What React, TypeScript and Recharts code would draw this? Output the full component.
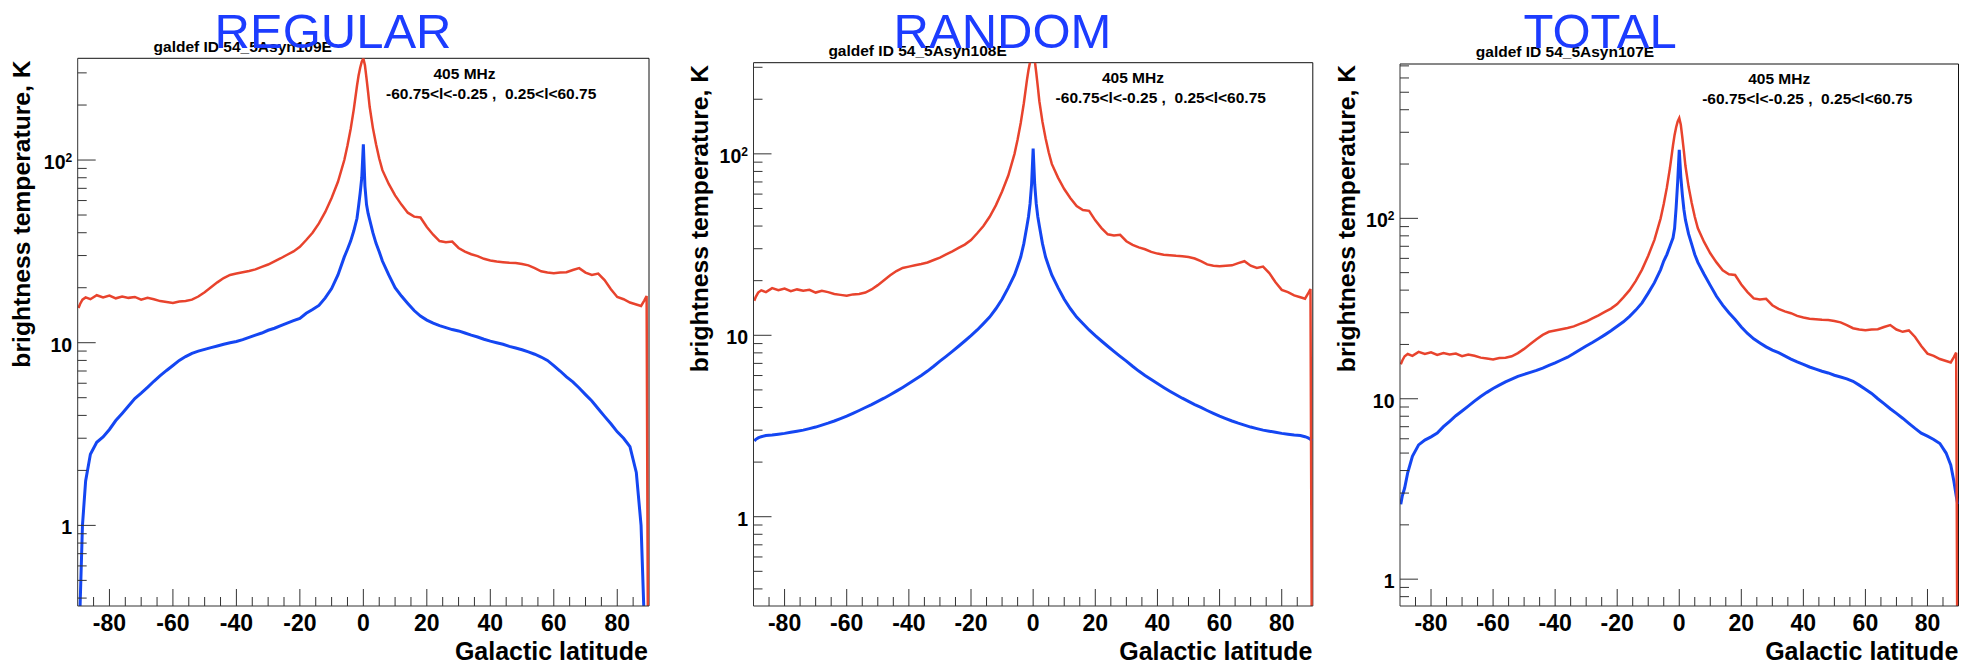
import { LineChart, Line, XAxis, YAxis, ReferenceLine } from 'recharts';

// Galactic latitude grid (deg) shared by every curve
const latitude = [
  -89.75, -89.25, -88.5, -87.5,
  -86, -84, -82, -80, -78, -76, -74, -72, -70, -68,
  -66, -64, -62, -60, -58, -56, -54, -52, -50, -48,
  -46, -44, -42, -40, -38, -36, -34, -32, -30, -28,
  -26, -24, -22, -20, -18, -16, -14, -12, -10, -8, -6,
  -5, -4, -3, -2, -1.5, -1, -0.5,
  0,
  0.5, 1, 1.5, 2, 3, 4, 5,
  6, 8, 10, 12, 14, 16, 18, 20, 22, 24,
  26, 28, 30, 32, 34, 36, 38, 40, 42, 44,
  46, 48, 50, 52, 54, 56, 58, 60, 62, 64,
  66, 68, 70, 72, 74, 76, 78, 80, 82, 84, 86,
  87.5, 88.5, 89.25, 89.75,
];

// 405 MHz survey profile (red), same in all three panels
const observed405 = [
  15.5, 16.3, 17.2, 17.7,
  17.3, 18.2, 17.7, 18.1, 17.5, 17.9, 17.6, 17.8, 17.2, 17.6,
  17.3, 16.9, 16.7, 16.5, 16.8, 16.9, 17.2, 17.9, 18.9, 20.1,
  21.4, 22.6, 23.5, 23.9, 24.3, 24.7, 25.2, 26.0, 26.8, 27.9,
  29.0, 30.3, 31.6, 33.5, 36.5, 40, 45, 52, 62, 76, 100,
  120, 148, 190, 255, 290, 320, 345,
  360,
  330, 280, 235, 195, 150, 122, 102,
  88, 74, 64, 57, 51.5, 49, 48.5, 43, 39, 36,
  35.5, 35.8, 33, 31.5, 30.5, 29.8, 28.8, 28.2, 27.8, 27.6,
  27.4, 27.3, 27.0, 26.5, 25.6, 24.6, 24.2, 24.0, 24.2, 24.3,
  25.0, 25.6, 24.2, 23.5, 23.9, 22.0, 19.6, 17.8, 17.3, 16.6, 16.2,
  15.9, 17.0, 18.0, 0.1,
];

// model profiles (blue)
const regularModel = [
  0.2, 0.36, 1.0, 1.75,
  2.45, 2.85, 3.05, 3.35, 3.75, 4.1, 4.5, 4.95, 5.3, 5.7,
  6.15, 6.6, 7.05, 7.5, 8.0, 8.4, 8.75, 9.0, 9.2, 9.4,
  9.6, 9.8, 10.0, 10.15, 10.4, 10.7, 11.0, 11.3, 11.7, 12.0,
  12.4, 12.8, 13.2, 13.6, 14.5, 15.2, 16.0, 17.6, 19.8, 23.5, 29.5,
  32.5, 36, 41, 48, 56, 66, 80,
  122,
  72, 57, 51, 47, 40, 35, 31.5,
  28, 23.5, 20, 18, 16.4, 15.0, 14.0, 13.3, 12.8, 12.4,
  12.1, 11.8, 11.6, 11.3, 11.0, 10.75, 10.45, 10.2, 10.0, 9.8,
  9.55, 9.35, 9.15, 8.9, 8.65, 8.35, 8.0, 7.5, 7.0, 6.5,
  6.1, 5.65, 5.2, 4.8, 4.35, 3.95, 3.6, 3.25, 3.0, 2.7, 1.95,
  1.0, 0.3, 0.2, 0.2,
];

const randomModel = [
  2.62, 2.67, 2.72, 2.76,
  2.8, 2.82, 2.85, 2.88, 2.92, 2.96, 3.0, 3.06, 3.12, 3.2,
  3.28, 3.37, 3.47, 3.58, 3.71, 3.85, 4.0, 4.15, 4.32, 4.5,
  4.7, 4.92, 5.16, 5.42, 5.7, 6.0, 6.35, 6.75, 7.2, 7.65,
  8.15, 8.7, 9.3, 9.95, 10.7, 11.6, 12.6, 14.0, 15.8, 18.3, 21.5,
  24, 27, 32, 40, 45, 53, 68,
  107,
  68, 53, 45, 40, 32, 27, 24,
  21.5, 18.3, 15.8, 14.0, 12.6, 11.6, 10.7, 9.95, 9.3, 8.7,
  8.15, 7.65, 7.2, 6.75, 6.35, 6.0, 5.7, 5.42, 5.16, 4.92,
  4.7, 4.5, 4.32, 4.15, 4.0, 3.85, 3.71, 3.58, 3.47, 3.37,
  3.28, 3.2, 3.12, 3.06, 3.0, 2.96, 2.92, 2.88, 2.85, 2.82, 2.8,
  2.76, 2.72, 2.67, 2.62,
];

const totalModel = [
  2.6, 2.9, 3.2, 3.9,
  4.8, 5.55, 5.9, 6.15, 6.45, 7.0, 7.5, 8.05, 8.55, 9.1,
  9.7, 10.3, 10.85, 11.4, 11.9, 12.4, 12.85, 13.3, 13.65, 14.0,
  14.35, 14.8, 15.3, 15.8, 16.4, 17.0, 17.8, 18.7, 19.6, 20.5,
  21.5, 22.6, 23.8, 25.2, 26.7, 28.6, 31, 34, 38.5, 44, 52,
  58, 63, 70, 78, 88, 115, 160,
  240,
  170, 135, 112, 98, 82, 72, 63,
  57, 49, 42.5, 37, 33, 30, 27.5, 25, 23, 21.5,
  20.4, 19.4, 18.6, 18.0, 17.3, 16.6, 16.0, 15.5, 15.0, 14.6,
  14.2, 13.9, 13.5, 13.2, 12.9, 12.5, 11.9, 11.3, 10.7, 10.0,
  9.4, 8.8, 8.3, 7.8, 7.3, 6.85, 6.45, 6.2, 5.95, 5.65, 5.0,
  4.3, 3.5, 2.9, 2.6,
];

const xTicks = [
  -85, -80, -75, -70, -65, -60, -55, -50, -45, -40, -35, -30, -25, -20, -15, -10, -5,
  0, 5, 10, 15, 20, 25, 30, 35, 40, 45, 50, 55, 60, 65, 70, 75, 80, 85,
];
const lowTicks = [0.4, 0.5, 0.6, 0.7, 0.8, 0.9, 1, 2, 3, 4, 5, 6, 7, 8, 9, 10, 20, 30, 40, 50, 60, 70, 80, 90, 100, 200, 300];
const totalTicks = [0.8, 0.9, 1, 2, 3, 4, 5, 6, 7, 8, 9, 10, 20, 30, 40, 50, 60, 70, 80, 90, 100, 200, 300, 400, 500, 600, 700];

const RED = '#e8432d';
const BLUE = '#1446f2';
const TITLE_BLUE = '#1c3cff';
const FONT = '"Liberation Sans", Arial, Helvetica, sans-serif';
const AXIS = '#333';
const H = 664;
const PLOT_BOTTOM = 606;

function XTick({ x, payload }: any) {
  const v = payload.value;
  const major = v % 20 === 0;
  return (
    <g>
      <line x1={x} x2={x} y1={PLOT_BOTTOM} y2={PLOT_BOTTOM - (major ? 17 : 9)} stroke={AXIS} />
      {major && (
        <text x={x} y={PLOT_BOTTOM + 25} textAnchor="middle" fontFamily={FONT} fontWeight="bold" fontSize={23} fill="#000">
          {v}
        </text>
      )}
    </g>
  );
}

function YTick({ y, payload, left }: any) {
  const v = payload.value;
  const major = v === 1 || v === 10 || v === 100;
  return (
    <g>
      <line x1={left} x2={left + (major ? 18 : 9)} y1={y} y2={y} stroke={AXIS} />
      {major && (
        <text x={left - 5.5} y={y + 9} textAnchor="end" fontFamily={FONT} fontWeight="bold" fontSize={19.5} fill="#000">
          {v === 100 ? (
            <>
              10<tspan dy={-7} fontSize={12}>2</tspan>
            </>
          ) : (
            v
          )}
        </text>
      )}
    </g>
  );
}

interface PanelProps {
  left: number;
  width: number;
  plotLeft: number;
  plotRight: number;
  plotTop: number;
  model: number[];
  yDomain: [number, number];
  yTicks: number[];
}

function Panel({ left, width, plotLeft, plotRight, plotTop, model, yDomain, yTicks }: PanelProps) {
  const rows = latitude.map((lat, i) => ({ lat, obs: observed405[i], model: model[i] }));
  return (
    <div style={{ position: 'absolute', left, top: 0 }}>
      <LineChart
        width={width}
        height={H}
        data={rows}
        margin={{ top: plotTop, right: width - plotRight, bottom: 0, left: 0 }}
      >
        <XAxis
          dataKey="lat"
          type="number"
          domain={[-90, 90]}
          ticks={xTicks}
          interval={0}
          allowDataOverflow
          height={H - PLOT_BOTTOM}
          tickLine={false}
          axisLine={{ stroke: AXIS }}
          tick={(p: any) => <XTick {...p} />}
        />
        <YAxis
          type="number"
          scale="log"
          domain={yDomain}
          ticks={yTicks}
          interval={0}
          allowDataOverflow
          width={plotLeft}
          tickLine={false}
          axisLine={{ stroke: AXIS }}
          tick={(p: any) => <YTick {...p} left={plotLeft} />}
        />
        <ReferenceLine y={yDomain[1]} stroke="#111" />
        <ReferenceLine x={90} stroke="#111" />
        <Line type="linear" dataKey="model" stroke={BLUE} strokeWidth={3} dot={false} isAnimationActive={false} />
        <Line type="linear" dataKey="obs" stroke={RED} strokeWidth={2.5} dot={false} isAnimationActive={false} />
      </LineChart>
    </div>
  );
}

const small = { fontFamily: FONT, fontWeight: 'bold' as const, fontSize: 15.5, fill: '#000', whiteSpace: 'pre' as const };

function Labels({ title, titleX, galdef, galdefX, galdefY, mhzX, mhzY, rangeX, yLabelX, yLabelY, xLabelEnd }: any) {
  return (
    <g>
      <text x={galdefX} y={galdefY} style={small}>{galdef}</text>
      <text x={mhzX} y={mhzY} style={small}>405 MHz</text>
      <text x={rangeX} y={mhzY + 20} style={small}>{'-60.75<l<-0.25 ,  0.25<l<60.75'}</text>
      <text
        x={yLabelX}
        y={yLabelY}
        transform={`rotate(-90 ${yLabelX} ${yLabelY})`}
        textAnchor="middle"
        fontFamily={FONT}
        fontWeight="bold"
        fontSize={24.7}
      >
        brightness temperature, K
      </text>
      <text x={xLabelEnd} y={660} textAnchor="end" fontFamily={FONT} fontWeight="bold" fontSize={25}>
        Galactic latitude
      </text>
      <text x={titleX} y={48.3} fontFamily={FONT} fontSize={49} fill={TITLE_BLUE}>
        {title}
      </text>
    </g>
  );
}

export default function App() {
  return (
    <div style={{ position: 'absolute', left: 0, top: 0, width: 1975, height: H, background: '#fff' }}>
      <Panel left={0} width={660} plotLeft={77.7} plotRight={649} plotTop={58.3} model={regularModel} yDomain={[0.362, 360.5]} yTicks={lowTicks} />
      <Panel left={660} width={660} plotLeft={93.5} plotRight={652.8} plotTop={62.7} model={randomModel} yDomain={[0.322, 318]} yTicks={lowTicks} />
      <Panel left={1320} width={655} plotLeft={80} plotRight={638.5} plotTop={64} model={totalModel} yDomain={[0.71, 717]} yTicks={totalTicks} />
      <svg width={1975} height={H} style={{ position: 'absolute', left: 0, top: 0, pointerEvents: 'none' }}>
        <Labels title="REGULAR" titleX={214.6} galdef="galdef ID 54_5Asyn109E" galdefX={153.6} galdefY={52}
          mhzX={433.5} mhzY={79} rangeX={386} yLabelX={29.5} yLabelY={214} xLabelEnd={648} />
        <Labels title="RANDOM" titleX={893.6} galdef="galdef ID 54_5Asyn108E" galdefX={828.4} galdefY={56}
          mhzX={1101.9} mhzY={83.3} rangeX={1055.6} yLabelX={708} yLabelY={218.5} xLabelEnd={1312.4} />
        <Labels title="TOTAL" titleX={1523.4} galdef="galdef ID 54_5Asyn107E" galdefX={1475.8} galdefY={57.3}
          mhzX={1748.2} mhzY={84} rangeX={1702.2} yLabelX={1355} yLabelY={218.5} xLabelEnd={1958.3} />
      </svg>
    </div>
  );
}
